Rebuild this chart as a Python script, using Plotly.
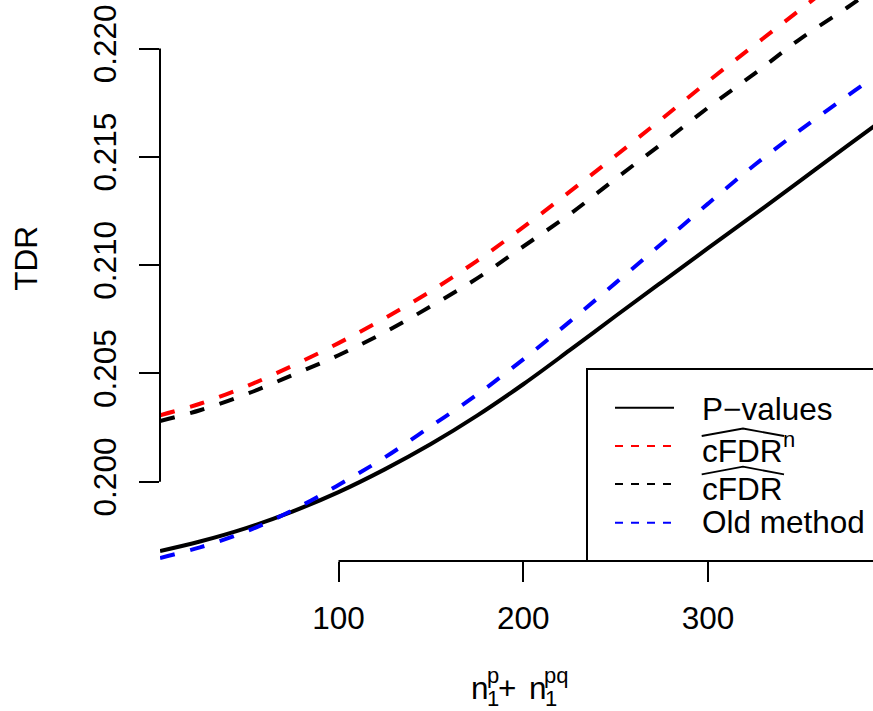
import plotly.graph_objects as go

# ---------------- data ----------------
n_total = [3.4, 25, 50, 75, 100, 125, 150, 175, 200, 225, 250, 275, 300, 325, 350, 375, 392]
tdr_pvalues = [0.19680, 0.19724, 0.19786, 0.19862, 0.19952, 0.20057, 0.20174, 0.20305, 0.20450,
               0.20606, 0.20765, 0.20922, 0.21078, 0.21233, 0.21390, 0.21548, 0.21655]
tdr_cfdr_n = [0.20307, 0.20360, 0.20440, 0.20535, 0.20640, 0.20755, 0.20880, 0.21020, 0.21175,
              0.21338, 0.21505, 0.21675, 0.21848, 0.22015, 0.22180, 0.22345, 0.22450]
tdr_cfdr = [0.20280, 0.20330, 0.20404, 0.20492, 0.20584, 0.20690, 0.20810, 0.20939, 0.21086,
            0.21234, 0.21399, 0.21561, 0.21727, 0.21883, 0.22045, 0.22187, 0.22290]
tdr_old = [0.19648, 0.19697, 0.19770, 0.19868, 0.19985, 0.20112, 0.20256, 0.20402, 0.20565,
           0.20738, 0.20918, 0.21100, 0.21284, 0.21461, 0.21624, 0.21779, 0.21880]

x_ticks = [100, 200, 300]
x_ticklabels = ["100", "200", "300"]
y_ticks = [0.200, 0.205, 0.210, 0.215, 0.220]
y_ticklabels = ["0.200", "0.205", "0.210", "0.215", "0.220"]

legend_labels = ["P\u2212values", "cFDR", "cFDR", "Old method"]
legend_colors = ["black", "red", "black", "blue"]
legend_dash = ["solid", "8px,8px", "8px,8px", "8px,8px"]

# ---------------- layout geometry ----------------
W, H = 873, 711
L, R, T, B = 160, 0, 0, 150
PW, PH = W - L - R, H - T - B
FONT = "Liberation Sans, Arial, Helvetica, sans-serif"
F = 31.5
FS = 22


def px(xp):
    return (xp - L) / PW


def py(yp):
    return (H - B - yp) / PH


fig = go.Figure()

series = [
    (tdr_pvalues, "black", "solid"),
    (tdr_cfdr_n, "red", "15px,16px"),
    (tdr_cfdr, "black", "15px,16px"),
    (tdr_old, "blue", "15px,16px"),
]
for yv, col, dash in series:
    fig.add_trace(go.Scatter(x=n_total, y=yv, mode="lines", showlegend=False,
                             line=dict(color=col, width=4, dash=dash, shape="spline"),
                             hoverinfo="skip"))

shapes = []
# axis lines (tick to tick, like R)
shapes.append(dict(type="line", xref="x", yref="paper", x0=min(x_ticks), x1=max(x_ticks), y0=0, y1=0,
                   line=dict(color="black", width=2)))
shapes.append(dict(type="line", xref="paper", yref="y", x0=0, x1=0, y0=min(y_ticks), y1=max(y_ticks),
                   line=dict(color="black", width=2)))
# legend box
shapes.append(dict(type="rect", xref="paper", yref="paper", x0=px(587), x1=px(900), y0=py(561), y1=py(369),
                   line=dict(color="black", width=2), fillcolor="rgba(0,0,0,0)"))
# legend line samples
row_y = [407.7, 446, 484, 522.7]
for yy, col, dash in zip(row_y, legend_colors, legend_dash):
    shapes.append(dict(type="line", xref="paper", yref="paper", x0=px(615), x1=px(674), y0=py(yy), y1=py(yy),
                       line=dict(color=col, width=2, dash=dash)))
# wide hats over cFDR
for yend, ypeak in [(436, 428.5), (474.3, 466.7)]:
    path = "M {} {} L {} {} L {} {}".format(px(701.7), py(yend), px(743), py(ypeak), px(784), py(yend))
    shapes.append(dict(type="path", xref="paper", yref="paper", path=path,
                       line=dict(color="black", width=1.8)))

annotations = []


def txt(text, left, baseline, size, angle=0):
    annotations.append(dict(text=text, xref="paper", yref="paper", x=px(left), y=py(baseline - 0.3465 * size),
                            xanchor="left", yanchor="middle", showarrow=False, borderpad=0, borderwidth=0,
                            font=dict(family=FONT, size=size, color="black"), textangle=angle))


# legend texts
txt(legend_labels[0], 701.5, 420, F)
txt(legend_labels[1], 701.5, 461.7, F)
txt("n", 782.5, 447, FS)
txt(legend_labels[2], 701.5, 500, F)
txt(legend_labels[3], 701.5, 533.3, F)

# x axis title  n_1^p + n_1^pq
txt("n", 471, 699, F)
txt("p", 486.5, 683, FS)
txt("1", 486.5, 706, FS)
txt("+", 497.5, 699, F)
txt("n", 529, 699, F)
txt("pq", 543.5, 683, FS)
txt("1", 544.5, 706, FS)

# y axis title
annotations.append(dict(text="TDR", xref="paper", yref="paper", x=px(25.8), y=py(258), xanchor="center",
                        yanchor="middle", showarrow=False, textangle=-90, borderpad=0, borderwidth=0,
                        font=dict(family=FONT, size=F, color="black")))

fig.update_layout(
    width=W, height=H,
    margin=dict(l=L, r=R, t=T, b=B, pad=0),
    paper_bgcolor="white", plot_bgcolor="white",
    font=dict(family=FONT, size=F, color="black"),
    shapes=shapes, annotations=annotations,
    xaxis=dict(range=[3.38, 389.3], showgrid=False, zeroline=False, showline=False,
               tickmode="array", tickvals=x_ticks, ticktext=x_ticklabels,
               ticks="outside", ticklen=20, tickwidth=2, tickcolor="black", ticklabelstandoff=9,
               tickfont=dict(family=FONT, size=F, color="black")),
    yaxis=dict(range=[0.19634, 0.22224], showgrid=False, zeroline=False, showline=False,
               tickmode="array", tickvals=y_ticks, ticktext=y_ticklabels, tickangle=-90,
               ticks="outside", ticklen=20, tickwidth=2, tickcolor="black", ticklabelstandoff=10,
               tickfont=dict(family=FONT, size=F, color="black")),
)

fig.write_html("out.html")
